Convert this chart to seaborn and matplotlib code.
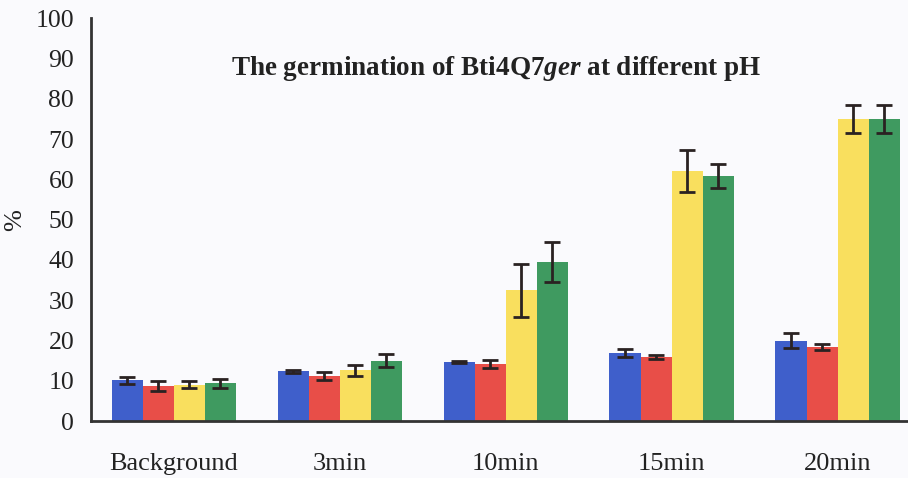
import matplotlib
matplotlib.use("Agg")
import matplotlib.pyplot as plt
import seaborn as sns
import pandas as pd
import numpy as np

# Germination (%) of Bti4Q7ger spores over time at four pH conditions
times = ["Background", "3min", "10min", "15min", "20min"]
conditions = ["pH A", "pH B", "pH C", "pH D"]
blue_vals = [10.1, 12.4, 14.7, 16.9, 20.0]
red_vals = [8.7, 11.1, 14.2, 15.9, 18.4]
yellow_vals = [9.0, 12.6, 32.5, 62.0, 75.0]
green_vals = [9.4, 15.0, 39.5, 60.8, 75.0]
blue_err = [0.8, 0.4, 0.3, 1.0, 1.9]
red_err = [1.2, 1.0, 0.9, 0.4, 0.8]
yellow_err = [0.9, 1.4, 6.6, 5.2, 3.4]
green_err = [1.1, 1.6, 5.0, 3.0, 3.4]
yticks = list(range(0, 101, 10))

palette = ["#3F5FCB", "#E84E48", "#F9DF5E", "#3F9A60"]

values = [blue_vals, red_vals, yellow_vals, green_vals]
errors = [blue_err, red_err, yellow_err, green_err]
df = pd.DataFrame({
    "time": np.repeat([times], 4, axis=0).ravel(),
    "cond": np.repeat(conditions, len(times)),
    "pct": np.ravel(values),
})

sns.set_theme(style="white")
plt.rcParams["font.family"] = ["Liberation Serif", "DejaVu Serif"]
plt.rcParams["mathtext.fontset"] = "custom"
plt.rcParams["mathtext.bfit"] = "Liberation Serif:italic:bold"
plt.rcParams["mathtext.rm"] = "Liberation Serif"

bg = "#fafafd"
fig = plt.figure(figsize=(9.08, 4.78), dpi=100, facecolor=bg)
ax = fig.add_axes([0.100, 0.119, 0.914, 0.843])
ax.set_facecolor(bg)

sns.barplot(data=df, x="time", y="pct", hue="cond", order=times,
            hue_order=conditions, palette=palette, errorbar=None,
            width=0.75, gap=0, linewidth=0, saturation=1, legend=False, ax=ax)

# error bars at the centre of each bar
for cont, errs, vals in zip(ax.containers, errors, values):
    xs = [p.get_x() + p.get_width() / 2 for p in cont.patches]
    ax.errorbar(xs, vals, yerr=errs, fmt="none", ecolor="#2a2222",
                elinewidth=2.0, capsize=5.5, capthick=2.0, zorder=5)

ax.set_xlim(-0.5, len(times) - 0.5)
ax.set_ylim(0, 100)
ax.set_yticks(yticks)
ax.set_yticklabels([str(t) for t in yticks], fontsize=18.5, color="#222222")

# group labels centred, tick marks between groups
ax.set_xticks(np.arange(len(times)) - 0.5)
ax.set_xticklabels([])
ax.set_xticks(np.arange(len(times)), minor=True)
ax.set_xticklabels(times, minor=True, fontsize=19, color="#222222")
ax.tick_params(axis="x", which="minor", length=0, pad=23)
ax.tick_params(axis="x", which="major", direction="out", length=6, width=2,
               color="#333333")
ax.tick_params(axis="y", direction="out", length=6, width=2, color="#333333",
               pad=6)

ax.set_xlabel("")
ax.set_ylabel("%", fontsize=19, color="#222222")
ax.yaxis.set_label_coords(-0.078, 0.5)

for side in ["top", "right"]:
    ax.spines[side].set_visible(False)
for side in ["left", "bottom"]:
    ax.spines[side].set_color("#333333")
    ax.spines[side].set_linewidth(2)

ax.text(0.489, 0.876,
        r"The germination of Bti4Q7$\mathbfit{ger}$ at different pH",
        transform=ax.transAxes, ha="center", va="center",
        fontsize=19.5, fontweight="bold", color="#222222")

fig.savefig("out.png", dpi=100, facecolor=bg)
